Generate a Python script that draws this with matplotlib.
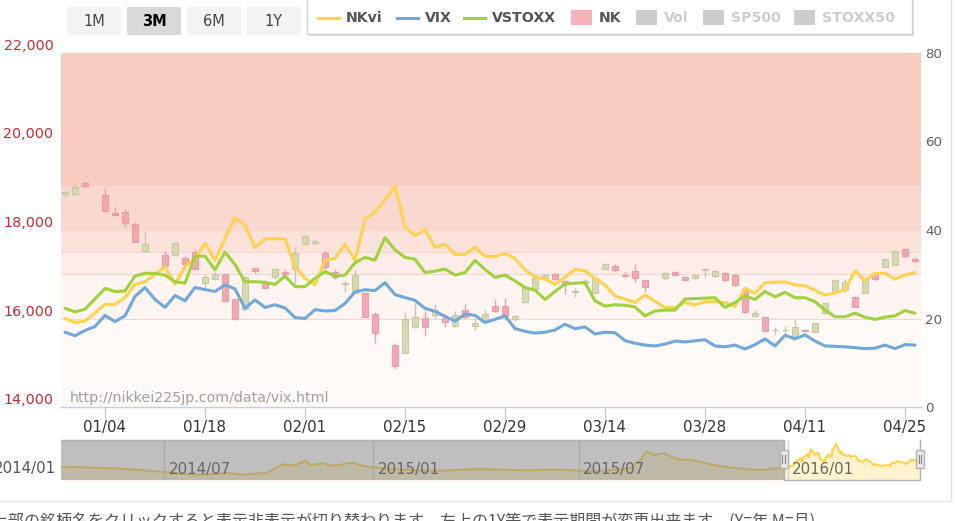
import numpy as np
import pandas as pd
import matplotlib
matplotlib.use('Agg')
import matplotlib.pyplot as plt
import matplotlib.dates as mdates
from matplotlib.patches import Rectangle
from matplotlib.lines import Line2D
from matplotlib.transforms import blended_transform_factory, ScaledTranslation

W, H = 957, 521
nan = np.nan

# ---------------- data ----------------
trade_days = [d for d in pd.bdate_range('2015-12-28', '2016-04-26') if d != pd.Timestamp('2016-01-01')]

nkvi = [20.0, 19.1, 19.4, nan, 23.2, 23.2, 24.7, 27.7, 28.3, nan,
        31.7, 27.7, 31.7, 33.6, 37.0, 33.1, 38.1, 42.8, 41.1, 36.0,
        38.0, 38.0, 38.0, 31.7, 29.1, 27.6, 33.1, 33.6, 36.8, 33.2,
        42.4, 44.1, nan, 49.8, 40.7, 38.7, 40.1, 36.1, 36.8, 34.5,
        34.5, 36.1, 34.1, 34.0, 34.7, 33.6, 31.0, 29.4, 28.9, 27.7,
        29.3, 31.1, 30.8, 29.1, 27.6, 25.1, 24.4, 23.6, 25.3, nan,
        22.5, 22.5, 23.6, 23.1, 23.8, 23.8, 23.6, 22.7, 26.8, 25.7,
        28.1, 28.2, 28.3, 27.6, 27.4, 26.4, 25.3, 25.8, 26.4, 30.8,
        28.5, 30.2, 30.2, 28.9, 29.8, 30.4]

vix = [16.9, 16.1, 17.3, 18.2, 20.7, 19.3, 20.6, 25.0, 27.0, 24.3,
       22.5, 25.2, 24.0, 27.0, nan, 26.1, 27.6, 26.7, 22.3, 24.2,
       22.5, 23.1, 22.4, 20.2, 20.0, 22.0, 21.7, 21.8, 23.4, 26.0,
       26.5, 26.3, 28.1, 25.4, nan, 24.1, 22.3, 21.6, 20.5, 19.4,
       21.0, 20.7, 19.1, 19.8, 20.6, 17.7, 17.1, 16.7, 16.9, 17.4,
       18.7, 17.7, 18.1, 16.5, 16.9, 16.8, 15.0, 14.4, 14.0, 13.8,
       14.2, 14.9, 14.7, nan, 15.2, 13.8, 13.6, 14.0, 13.1, 14.1,
       15.4, 13.8, 16.2, 15.4, 16.3, 14.9, 13.8, 13.7, 13.6, 13.4,
       13.2, 13.3, 14.0, 13.2, 14.1, 14.0]

vstoxx = [22.3, 21.5, 22.1, nan, 26.8, 26.1, 26.2, 29.6, 30.2, 30.2,
          29.8, 28.3, 28.0, 34.1, 34.1, 31.0, 35.0, 32.2, 28.3, 28.3,
          28.2, 27.7, 29.6, 27.2, 27.2, 29.1, 30.6, 29.6, 29.8, 32.6,
          33.8, 33.2, 38.3, 35.5, 33.8, 33.4, 30.4, 30.7, 31.2, 29.8,
          30.4, 33.1, 31.1, 29.3, 29.8, 28.5, 27.0, 26.4, 24.3, 26.1,
          27.8, 28.0, 28.1, 24.0, 22.8, 23.1, 23.0, 22.6, 20.6, 21.7,
          21.9, 21.9, 24.4, nan, nan, 24.7, 22.5, 23.6, 25.1, 24.3,
          26.1, 24.9, 25.9, 24.7, 24.7, 23.8, 21.9, 20.4, 20.4, 21.2,
          20.3, 19.8, 20.3, 20.6, 21.8, 21.2]

nk_open = [18814, 18814, 19070, nan, 18791, 18378, 18400, 18128, 17525, nan,
           17435, 17435, 17374, 17496, 16795, 16886, 17006, 16434, 16208, 17134,
           16773, 16930, 17043, 17119, 17683, 17713, 17473, 17058, 16773, 16583,
           16583, 16102, nan, 15401, 15228, 15800, 16019, 16080, 16004, 15831,
           16192, 15831, 15928, 16290, 16290, 15981, 16380, 16667, 16923, 17006,
           16847, 16599, 16795, 16584, 17119, 17186, 16975, 17073, 16870, nan,
           16923, 17043, 16945, 16923, 17096, 16960, 17036, 16983, 16659, 16056,
           16026, 15740, 15740, 15574, 15740, 15702, 16117, 16606, 16644, 16493,
           16569, 17021, 17171, 17209, 17571, 17337]
nk_high = [18888, 19006, 19095, nan, 18942, 18527, 18475, 18172, 17947, nan,
           17535, 17720, 17420, 17571, 17006, 17040, 17010, 16440, 16960, 17170,
           16790, 17140, 17110, 17610, 17880, 17780, 17530, 17120, 16850, 17096,
           16600, 16154, nan, 15440, 16154, 16343, 16177, 16328, 16040, 16169,
           16320, 15989, 16207, 16441, 16456, 16080, 16720, 16940, 17006, 17030,
           16870, 16682, 16900, 16940, 17240, 17240, 17058, 17224, 16870, nan,
           17058, 17060, 16960, 17010, 17134, 17100, 17060, 17000, 16700, 16192,
           16040, 15815, 15830, 15981, 15760, 15920, 16360, 16890, 16885, 16510,
           16885, 17058, 17350, 17550, 17600, 17390]
nk_low = [18752, 18790, 18994, nan, 18400, 18324, 18075, 17730, 17510, nan,
          17170, 17420, 17110, 17110, 16682, 16860, 16380, 15960, 16200, 17020,
          16670, 16900, 16990, 16757, 17670, 17690, 17120, 16900, 16600, 16580,
          16030, 15440, nan, 14859, 15220, 15790, 15612, 16000, 15800, 15800,
          16000, 15740, 15906, 16150, 16000, 15950, 16370, 16650, 16870, 16870,
          16554, 16494, 16750, 16570, 17110, 17050, 16945, 16832, 16606, nan,
          16870, 16950, 16850, 16900, 16945, 16940, 16850, 16740, 16120, 16040,
          15700, 15627, 15650, 15560, 15700, 15690, 16100, 16590, 16600, 16250,
          16569, 16850, 17160, 17200, 17400, 17270]
nk_close = [18851, 18964, 19001, nan, 18429, 18345, 18151, 17736, 17676, nan,
            17193, 17712, 17225, 17119, 16930, 17006, 16400, 15982, 16945, 17073,
            16682, 17119, 17006, 17487, 17864, 17751, 17171, 16945, 16795, 16983,
            16041, 15680, nan, 14927, 15989, 16026, 15800, 16196, 15928, 16079,
            16041, 15906, 16102, 16169, 16056, 16056, 16704, 16923, 16983, 16885,
            16795, 16629, 16855, 16923, 17224, 17096, 16960, 16908, 16704, nan,
            17021, 16983, 16870, 16983, 17111, 17073, 16870, 16757, 16154, 16117,
            15718, 15745, 15748, 15800, 15718, 15891, 16343, 16870, 16832, 16267,
            16870, 16885, 17337, 17533, 17412, 17307]

x_tick_labels = ['01/04', '01/18', '02/01', '02/15', '02/29', '03/14', '03/28', '04/11', '04/25']
left_ticks = [14000, 16000, 18000, 20000, 22000]
right_ticks = [0, 20, 40, 60, 80]
band_edges = [0, 20, 30, 35, 40, 50, 80]
band_colors = ['#fffaf8', '#fef4f1', '#fdece7', '#fbe2db', '#f9d8cf', '#f8cdc1']

nav_dates = ['2014-04-01', '2014-05-01', '2014-05-29', '2014-06-27', '2014-07-26', '2014-08-10',
             '2014-08-25', '2014-09-08', '2014-09-23', '2014-09-29', '2014-10-13', '2014-10-24',
             '2014-11-02', '2014-11-06', '2014-11-18', '2014-11-26', '2014-12-13', '2014-12-23',
             '2015-01-01', '2015-01-16', '2015-02-02', '2015-02-20', '2015-03-09', '2015-03-27',
             '2015-04-14', '2015-05-01', '2015-05-19', '2015-06-05', '2015-06-23', '2015-07-11',
             '2015-07-28', '2015-08-15', '2015-08-24', '2015-08-29', '2015-09-06', '2015-09-14',
             '2015-09-25', '2015-10-06', '2015-10-16', '2015-10-27', '2015-11-06', '2015-11-18',
             '2015-11-28', '2015-12-09', '2015-12-20']
nav_vals = [21.9, 20.7, 19.2, 15.9, 12.3, 12.8,
            14.4, 12.3, 14.0, 14.5, 24.8, 23.5,
            29.1, 24.0, 26.0, 22.8, 26.7, 22.8,
            21.2, 19.2, 18.0, 17.1, 17.6, 18.8,
            18.8, 18.0, 17.6, 18.4, 18.0, 15.9,
            18.0, 20.0, 30.0, 39.9, 36.0, 38.0,
            30.8, 30.0, 27.9, 24.0, 21.9, 20.0,
            18.8, 18.0, 20.0]
nav_tick_dates = ['2014-07-01', '2015-01-01', '2015-07-01', '2016-01-01']
nav_tick_labels = ['2014/07', '2015/01', '2015/07', '2016/01']

buttons = ['1M', '3M', '6M', '1Y']
selected_button = '3M'
legend_names = ['NKvi', 'VIX', 'VSTOXX', 'NK', 'Vol', 'SP500', 'STOXX50']
legend_active = [True, True, True, True, False, False, False]

C_NKVI, C_VIX, C_VSTOXX = '#ffd24f', '#6ea8dc', '#9fd23c'
C_UP_FILL, C_UP_EDGE = '#d5daab', '#c3c5a2'
C_DN_FILL, C_DN_EDGE = '#f4a3ae', '#e59aa5'

plt.rcParams['font.family'] = ['DejaVu Sans', 'Noto Sans CJK JP']


def fx(x):
    return x / W


def fy(y):
    return 1 - y / H


def rect_ax(x0, y0, x1, y1):
    return [x0 / W, 1 - y1 / H, (x1 - x0) / W, (y1 - y0) / H]


fig = plt.figure(figsize=(W / 100, H / 100), dpi=100)
fig.patch.set_facecolor('white')

idx = np.arange(len(trade_days))

# ---------------- main plot: bands (vol axis) ----------------
ax_v = fig.add_axes(rect_ax(61, 53, 921, 407))
ax_v.set_xlim(-0.4, len(trade_days) - 0.4)
ax_v.set_ylim(0, 80)
ax_v.set_facecolor('white')
for lo, hi, c in zip(band_edges[:-1], band_edges[1:], band_colors):
    ax_v.axhspan(lo, hi, color=c, lw=0, zorder=0)
for e in band_edges[1:-1]:
    ax_v.axhline(e, color='#f6d6ce', lw=0.8, zorder=0.5)
for s in ['top', 'left', 'right']:
    ax_v.spines[s].set_visible(False)
ax_v.spines['bottom'].set_color('#c0d0e0')
ax_v.spines['bottom'].set_linewidth(1)

# ---------------- NK candles ----------------
ax_n = ax_v.twinx()
ax_n.set_ylim(14000, 22000)
ax_n.set_yticks([])
for s in ax_n.spines.values():
    s.set_visible(False)
o = np.array(nk_open, float)
h = np.array(nk_high, float)
l = np.array(nk_low, float)
c = np.array(nk_close, float)
ok = ~np.isnan(o)
up = ok & (c >= o)
dn = ok & (c < o)
for m, fc, ec in [(up, C_UP_FILL, C_UP_EDGE), (dn, C_DN_FILL, C_DN_EDGE)]:
    ax_n.vlines(idx[m], l[m], h[m], colors=ec, lw=1.0, zorder=1, alpha=0.9)
    ax_n.bar(idx[m], np.abs(c[m] - o[m]), bottom=np.minimum(o[m], c[m]), width=0.62,
             color=fc, edgecolor=ec, linewidth=0.8, zorder=2, alpha=0.9)

lab_tr = blended_transform_factory(fig.transFigure, ax_n.transData) + \
    ScaledTranslation(0, 7 / 100, fig.dpi_scale_trans)
for t in left_ticks:
    ax_n.text(53.5 / W, t, f'{t:,}', transform=lab_tr, ha='right', va='center',
              color='#cc2a36', fontsize=10.3, clip_on=False)

# ---------------- lines ----------------
ax_l = ax_v.twinx()
ax_l.set_ylim(0, 80)
ax_l.set_yticks([])
for s in ax_l.spines.values():
    s.set_visible(False)
for series, col in [(vix, C_VIX), (nkvi, C_NKVI), (vstoxx, C_VSTOXX)]:
    arr = np.array(series, float)
    mk = ~np.isnan(arr)
    ax_l.plot(idx[mk], arr[mk], color=col, lw=2.2, solid_joinstyle='round',
              solid_capstyle='round', zorder=3)

# axis ticks of the base axes (set after twinx, which moves them)
ax_v.yaxis.tick_right()
ax_v.yaxis.set_label_position('right')
ax_v.set_yticks(right_ticks)
ax_v.set_yticklabels([str(t) for t in right_ticks])
ax_v.tick_params(axis='y', which='both', left=False, labelleft=False, right=False,
                 labelright=True, length=0, labelsize=9.6, labelcolor='#606060', pad=3)
tick_pos = [trade_days.index(pd.Timestamp('2016-' + lab.replace('/', '-'))) for lab in x_tick_labels]
ax_v.set_xticks(tick_pos)
ax_v.set_xticklabels(x_tick_labels)
ax_v.tick_params(axis='x', length=8.6, color='#c0d0e0', width=1, labelsize=10.8,
                 labelcolor='#333333', pad=1)

fig.text(fx(70), fy(398), 'http://nikkei225jp.com/data/vix.html', color='#a0a0a0',
         fontsize=10.3, ha='left', va='center')

# ---------------- navigator ----------------
ax_nav = fig.add_axes(rect_ax(61, 440, 920, 480))
nav_x = list(pd.to_datetime(nav_dates)) + [d for d, v in zip(trade_days, nkvi) if not np.isnan(v)]
nav_y = nav_vals + [v for v in nkvi if not np.isnan(v)]
x0 = pd.Timestamp(nav_dates[0])
ax_nav.set_xlim(x0, trade_days[-1])
ax_nav.set_ylim(6, 54)
ax_nav.set_facecolor('white')
ax_nav.fill_between(nav_x, nav_y, 6, color='#fff3cf', lw=0, zorder=1)
ax_nav.plot(nav_x, nav_y, color=C_NKVI, lw=1.5, zorder=2)
for d in nav_tick_dates:
    ax_nav.axvline(pd.Timestamp(d), color='#d6d6d6', lw=1, zorder=1.5)
ax_nav.axvspan(x0, trade_days[0], color=(0.5, 0.5, 0.5, 0.5), lw=0, zorder=3)
nav_lab_tr = ax_nav.get_xaxis_transform() + ScaledTranslation(4 / 100, 0, fig.dpi_scale_trans)
for d, lab in zip(nav_tick_dates, nav_tick_labels):
    ax_nav.text(pd.Timestamp(d), 0.27, lab, transform=nav_lab_tr, ha='left', va='center',
                color='#666666', fontsize=10.8, zorder=5)
ax_nav.set_xticks([])
ax_nav.set_yticks([])
for s in ax_nav.spines.values():
    s.set_visible(False)
fig.text(fx(56), fy(469), '2014/01', ha='right', va='center', color='#555555', fontsize=10.8)

# handles / outline positions from the navigator's own scale
inv = fig.transFigure.inverted()
hx1 = inv.transform(ax_nav.transData.transform((mdates.date2num(trade_days[0]), 0)))[0]
hx2 = inv.transform(ax_nav.transData.transform((mdates.date2num(trade_days[-1]), 0)))[0]
oc = '#b2b1b6'
fig.add_artist(Line2D([fx(61), hx1, hx1, hx2, hx2], [fy(440), fy(440), fy(480), fy(480), fy(440)],
                      color=oc, lw=1, zorder=6))
for hx in [hx1, hx2]:
    fig.add_artist(Rectangle((hx - 4 / W, fy(468)), 8 / W, 18 / H, transform=fig.transFigure,
                             facecolor='#ebe7e8', edgecolor=oc, lw=1, zorder=7))
    for dx in [-1.3, 1.3]:
        fig.add_artist(Line2D([hx + dx / W] * 2, [fy(463), fy(455)], color='#888888', lw=0.8, zorder=8))

# ---------------- range selector buttons ----------------
for k, b in enumerate(buttons):
    bx = 67 + 60 * k
    sel = (b == selected_button)
    fig.add_artist(Rectangle((fx(bx), fy(35)), 54 / W, 28 / H, transform=fig.transFigure,
                             facecolor='#d9d9d9' if sel else '#f3f3f3', edgecolor='none'))
    fig.text(fx(bx + 27), fy(21), b, ha='center', va='center', fontsize=10.5,
             color='#000000' if sel else '#444444', fontweight='bold' if sel else 'normal')

# ---------------- legend ----------------
fig.add_artist(Rectangle((fx(309), fy(36)), 605 / W, 40 / H, transform=fig.transFigure,
                         facecolor='#e4e4e4', edgecolor='none', zorder=9))
fig.add_artist(Rectangle((fx(307), fy(34)), 605 / W, 40 / H, transform=fig.transFigure,
                         facecolor='white', edgecolor='#cfcfcf', lw=1, zorder=10))
sym_x = [318, 397, 464, 571, 636, 703, 794]
sym_kind = ['line', 'line', 'line', 'sq', 'sq', 'sq', 'sq']
sym_col = [C_NKVI, C_VIX, C_VSTOXX, '#f9b1bc', '#cccccc', '#cccccc', '#cccccc']
for name, act, sx, kind, col in zip(legend_names, legend_active, sym_x, sym_kind, sym_col):
    if kind == 'line':
        fig.add_artist(Line2D([fx(sx), fx(sx + 21)], [fy(17.5)] * 2, color=col, lw=2.2, zorder=11))
    else:
        fig.add_artist(Rectangle((fx(sx), fy(25)), 21 / W, 15 / H, transform=fig.transFigure,
                                 facecolor=col, edgecolor='none', zorder=11))
    fig.text(fx(sx + 28), fy(17.5), name, ha='left', va='center', fontsize=10.2,
             fontweight='bold', color='#555555' if act else '#cccccc', zorder=12)

# ---------------- page frame / footer ----------------
fig.add_artist(Line2D([0, fx(950)], [fy(501)] * 2, color='#e6e6e6', lw=1))
fig.add_artist(Line2D([fx(951)] * 2, [fy(0), fy(500)], color='#e2e2e2', lw=1))
fig.text(fx(-8), fy(526), '上部の銘柄名をクリックすると表示非表示が切り替わります。左上の1Y等で表示期間が変更出来ます。(Y=年 M=月)',
         ha='left', va='baseline', fontsize=11.5, color='#555555',
         fontfamily=['Noto Sans CJK JP', 'DejaVu Sans'])

fig.savefig('out.png', dpi=100)
